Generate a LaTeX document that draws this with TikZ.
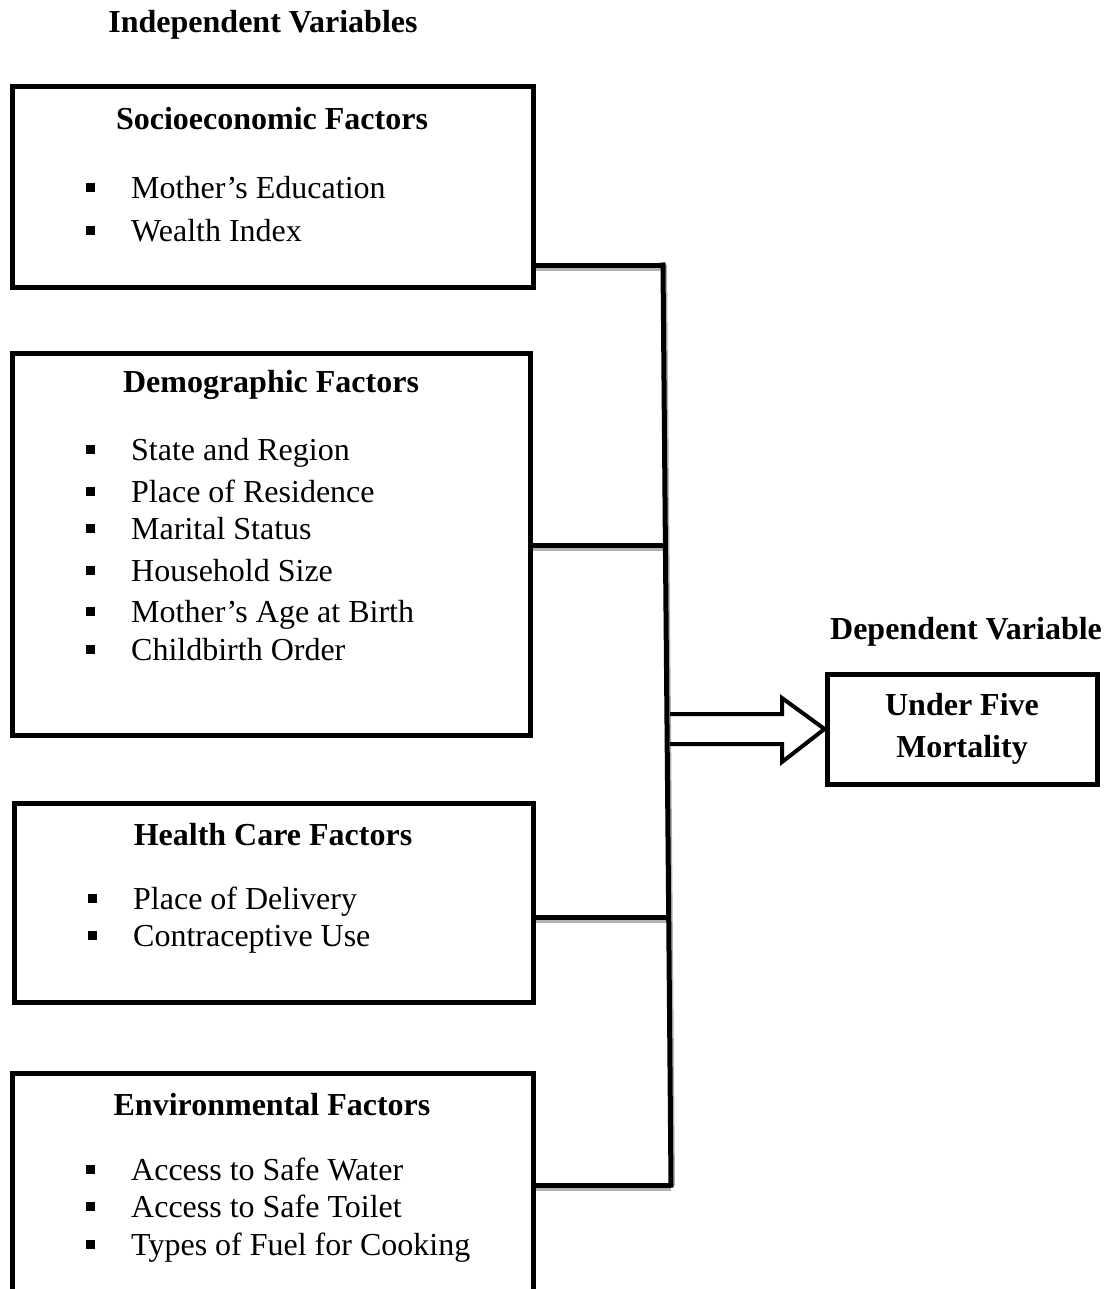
\documentclass[tikz,border=0pt]{standalone}
\usepackage{fontspec}
\setmainfont{Liberation Serif}
\tikzset{
  factor/.style={draw, line width=5pt, inner sep=0pt},
  head/.style={font=\fontsize{32}{42}\selectfont\bfseries},
  item/.style={anchor=west, inner sep=0pt, text height=22pt, text depth=0pt},
  link/.style={line width=5pt},
  linkshade/.style={line width=4pt, black!30},
}
\newcommand{\sqitem}{\raisebox{6.5pt}{\rule{9pt}{9pt}}\hspace{36pt}}
\begin{document}
\begin{tikzpicture}[x=1pt, y=-1pt, font=\fontsize{32}{36}\selectfont]
  \clip (0,0) rectangle (1111,1289);
  % headings
  \node[head] (iv) at (263,25) {Independent Variables};
  \node[head] (dv) at (966,632) {Dependent Variable};
  % factor boxes
  \node[factor, minimum width=521pt, minimum height=200pt] (se) at (272.5,187) {};
  \node[factor, minimum width=518pt, minimum height=382pt] (de) at (271,544) {};
  \node[factor, minimum width=519pt, minimum height=199pt] (hc) at (273.5,902.5) {};
  \node[factor, minimum width=521pt, minimum height=246pt] (en) at (272.5,1196) {};
  \node[factor, head, align=center, minimum width=270pt, minimum height=110pt] (um) at (962,729) {Under Five\\Mortality};
  % socioeconomic
  \node[head] (set) at (272,119) {Socioeconomic Factors};
  \node[item] (se1) at (86,188) {\sqitem Mother's Education};
  \node[item] (se2) at (86,231) {\sqitem Wealth Index};
  % demographic
  \node[head] (det) at (271,385) {Demographic Factors};
  \node[item] (de1) at (86,449) {\sqitem State and Region};
  \node[item] (de2) at (86,491) {\sqitem Place of Residence};
  \node[item] (de3) at (86,528) {\sqitem Marital Status};
  \node[item] (de4) at (86,570) {\sqitem Household Size};
  \node[item] (de5) at (86,611) {\sqitem Mother's Age at Birth};
  \node[item] (de6) at (86,649) {\sqitem Childbirth Order};
  % health care
  \node[head] (hct) at (273,835) {Health Care Factors};
  \node[item] (hc1) at (88,898) {\sqitem Place of Delivery};
  \node[item] (hc2) at (88,935) {\sqitem Contraceptive Use};
  % environmental
  \node[head] (ent) at (272,1105) {Environmental Factors};
  \node[item] (en1) at (86,1169) {\sqitem Access to Safe Water};
  \node[item] (en2) at (86,1206) {\sqitem Access to Safe Toilet};
  \node[item] (en3) at (86,1244) {\sqitem Types of Fuel for Cooking};
  % junctions on the collecting line
  \coordinate (j1) at (663,265);
  \coordinate (j2) at (665.4,545);
  \coordinate (j3) at (668.7,917);
  \coordinate (j4) at (671,1185);
  \begin{scope}[transform canvas={yshift=-4pt}]
    \draw[linkshade] (se.east |- j1) -- (j1);
    \draw[linkshade] (de.east |- j2) -- (j2);
    \draw[linkshade] (hc.east |- j3) -- (j3);
    \draw[linkshade] (en.east |- j4) -- (j4);
  \end{scope}
  \begin{scope}[transform canvas={xshift=3pt}]
    \draw[linkshade, line width=2pt] (j1) -- (j2) -- (j3) -- (j4);
  \end{scope}
  \draw[link] (se.east |- j1) -- (j1);
  \draw[link] (de.east |- j2) -- (j2);
  \draw[link] (hc.east |- j3) -- (j3);
  \draw[link] (en.east |- j4) -- (j4);
  \draw[link, line cap=rect] (j1) -- (j2) -- (j3) -- (j4);
  % block arrow
  \draw[line width=4pt, miter limit=10] (670,714) -- (782,714) -- (782,698) -- (um.west) -- (782,762) -- (782,744) -- (670,744);
\end{tikzpicture}
\end{document}
